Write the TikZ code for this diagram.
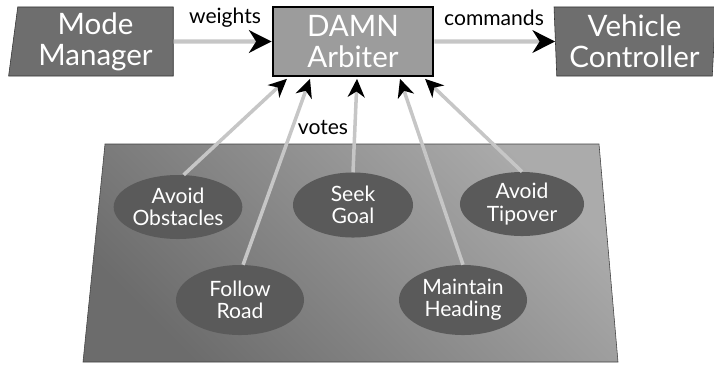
\documentclass[tikz,border=0pt]{standalone}
\usepackage{fontspec}
\setmainfont{Lato}
\usetikzlibrary{shapes.geometric, arrows.meta, positioning}

\definecolor{boxgray}{HTML}{6E6E6E}
\definecolor{arbgray}{HTML}{9C9C9C}
\definecolor{ellgray}{HTML}{5A5A5A}
\definecolor{linegray}{HTML}{C6C6C6}
\definecolor{panellight}{HTML}{ABABAB}
\definecolor{paneldark}{HTML}{6C6C6C}

\begin{document}
\begin{tikzpicture}[
    x=0.025cm, y=-0.025cm,
    module/.style={trapezium, trapezium stretches=true, draw=black!80, fill=boxgray, text=white, minimum height=1.725cm, align=center, inner sep=0pt, font=\fontsize{21}{22}\selectfont},
    arbiter/.style={rectangle, draw=black, line width=2pt, fill=arbgray, text=white, minimum width=4cm, minimum height=1.725cm, align=center, font=\fontsize{21}{22}\selectfont},
    behavior/.style={ellipse, fill=ellgray, text=white, align=center, inner sep=0pt, font=\fontsize{15}{15.8}\selectfont},
    flow/.style={line width=3pt, linegray, -{Stealth[black, length=16pt, width=16pt, inset=5pt]}},
    vote/.style={line width=2.5pt, linegray, -{Stealth[black, length=13pt, width=12pt, inset=4pt]}},
    lbl/.style={font=\fontsize{15}{16}\selectfont}
]
    \useasboundingbox (0,0) rectangle (714,364);

    % Top row
    \node[module, trapezium left angle=83.4, trapezium right angle=90, minimum width=4.125cm] (mm) at (95.5,41.5) {Mode\\Manager};
    \node[arbiter] (arb) at (353,41.5) {DAMN\\Arbiter};
    \node[module, trapezium left angle=92.5, trapezium right angle=93.3, minimum width=4.075cm] (vc) at (634.5,41.5) {Vehicle\\Controller};

    \draw[flow] (mm.east) -- (arb.west);
    \draw[flow] (arb.east) -- (vc.west);
    \node[lbl] (wlbl) at (225,18) {weights};
    \node[lbl] (clbl) at (494,18) {commands};

    % Behaviors panel
    \shade[draw=black!75, top color=panellight, bottom color=paneldark, shading angle=-45]
        (105,144) -- (599,144) -- (618,362) -- (83,362) -- cycle;

    \node[behavior, minimum width=3.1cm, minimum height=1.6cm] (ao) at (178,207) {Avoid\\Obstacles};
    \node[behavior, minimum width=3cm, minimum height=1.625cm] (sg) at (353,205) {Seek\\Goal};
    \node[behavior, minimum width=3.1cm, minimum height=1.6cm] (at) at (522,204) {Avoid\\Tipover};
    \node[behavior, minimum width=3.2cm, minimum height=1.75cm] (fr) at (240,300) {Follow\\Road};
    \node[behavior, minimum width=3.2cm, minimum height=1.75cm] (mh) at (463,300) {Maintain\\Heading};

    % Votes
    \draw[vote] (ao.80) -- ([xshift=-1.65cm, yshift=-1pt]arb.south);
    \draw[vote] (fr.85) -- ([xshift=-1.075cm, yshift=-1pt]arb.south);
    \draw[vote] (sg.north) -- ([xshift=0.1cm, yshift=-1pt]arb.south);
    \draw[vote] (mh.north) -- ([xshift=1.175cm, yshift=-1pt]arb.south);
    \draw[vote] (at.north) -- ([xshift=1.8cm, yshift=-1pt]arb.south);
    \node[lbl] (vlbl) at (323,127) {votes};
\end{tikzpicture}
\end{document}
